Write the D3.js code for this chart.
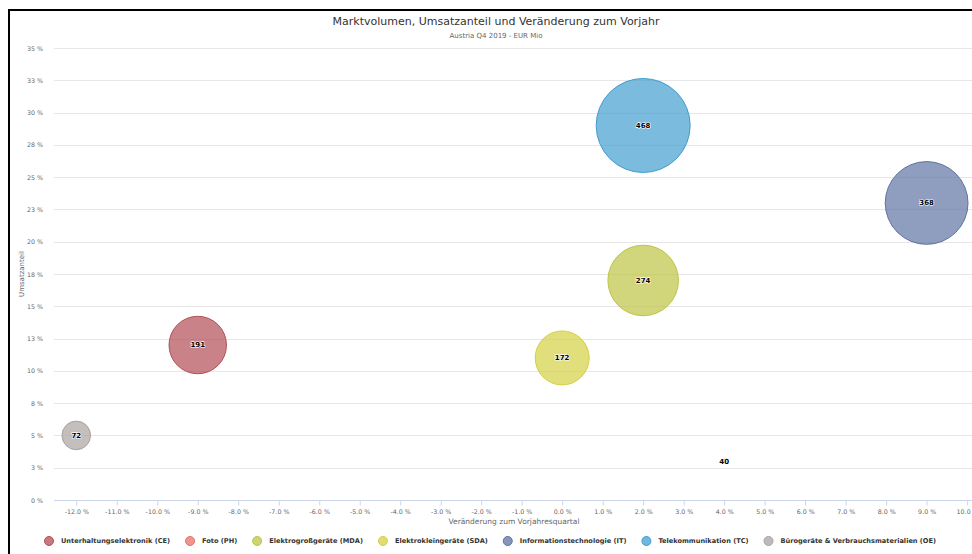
<!DOCTYPE html>
<html>
<head>
<meta charset="utf-8">
<script src="https://cdn.jsdelivr.net/npm/d3@7"></script>
<style>
  body { margin: 0; background: #fff; }
  svg { display: block; font-family: "DejaVu Sans", sans-serif; }
</style>
</head>
<body>
<script>
// chart data
var categories = ["Unterhaltungselektronik (CE)", "Foto (PH)", "Elektrogroßgeräte (MDA)", "Elektrokleingeräte (SDA)",
                  "Informationstechnologie (IT)", "Telekommunikation (TC)", "Bürogeräte & Verbrauchsmaterialien (OE)"]
var changeValues = [-9.0, 4.0, 2.0, 0.0, 9.0, 2.0, -12.0]     // Veränderung zum Vorjahresquartal, %
var shareValues  = [12.0, 3.0, 17.0, 11.0, 23.0, 29.0, 5.0]   // Umsatzanteil, %
var volumeValues = [191, 40, 274, 172, 368, 468, 72]          // EUR Mio
var colors = ["#b24e55", "#e8716a", "#bdc444", "#d4d045", "#5f73a2", "#419ed0", "#aba29f"]

var xTicks = d3.range(-12, 11, 1)
var yTicks = d3.range(0, 35.01, 2.5)

var width = 972
var height = 554
var plotLeft = 54, plotRight = 974, plotTop = 48, plotBottom = 500

var svg = d3.select("body").append("svg")
    .attr("width", width)
    .attr("height", height)

svg.append("rect")
    .attr("width", width)
    .attr("height", height)
    .attr("fill", "white")

var x = d3.scaleLinear().domain([-12.55, 10.17]).range([plotLeft, plotRight])
var y = d3.scaleLinear().domain([0, 35]).range([plotBottom, plotTop])
var zMin = d3.min(volumeValues), zMax = d3.max(volumeValues)
var r = d3.scaleSqrt().domain([0, zMax - zMin]).range([2, 47])

// grid lines
svg.append("g")
    .selectAll("line")
    .data(yTicks.filter(function(d) { return d > 0 }))
    .join("line")
    .attr("x1", plotLeft)
    .attr("x2", width)
    .attr("y1", function(d) { return Math.round(y(d)) + 0.5 })
    .attr("y2", function(d) { return Math.round(y(d)) + 0.5 })
    .attr("stroke", "#e6e6e6")

// y axis labels
var yAxis = svg.append("g")
    .attr("transform", "translate(" + (plotLeft - 8) + ",0)")
    .call(d3.axisLeft(y).tickValues(yTicks).tickSize(0)
        .tickFormat(function(d) { return Math.round(d) + " %" }))
yAxis.select(".domain").remove()
yAxis.selectAll("text")
    .attr("fill", "#666")
    .style("font-size", "6.3px")
    .style("font-family", "DejaVu Sans, sans-serif")

// x axis
var xAxis = svg.append("g")
    .attr("transform", "translate(0," + (plotBottom + 0.5) + ")")
    .call(d3.axisBottom(x).tickValues(xTicks).tickSize(5).tickPadding(4)
        .tickFormat(function(d) { return d.toFixed(1) + " %" }))
xAxis.select(".domain").remove()
xAxis.append("line")
    .attr("x1", plotLeft)
    .attr("x2", width)
    .attr("stroke", "#ccd6eb")
xAxis.selectAll(".tick line").attr("stroke", "#ccd6eb")
xAxis.selectAll("text")
    .attr("fill", "#666")
    .style("font-size", "6.3px")
    .style("font-family", "DejaVu Sans, sans-serif")

// axis titles
svg.append("text")
    .attr("x", (plotLeft + plotRight) / 2)
    .attr("y", 524)
    .attr("text-anchor", "middle")
    .attr("fill", "#666")
    .style("font-size", "7.5px")
    .text("Veränderung zum Vorjahresquartal")

svg.append("text")
    .attr("transform", "translate(24," + ((plotTop + plotBottom) / 2) + ") rotate(-90)")
    .attr("text-anchor", "middle")
    .attr("fill", "#666")
    .style("font-size", "7px")
    .text("Umsatzanteil")

// title
svg.append("text")
    .attr("x", 496)
    .attr("y", 25)
    .attr("text-anchor", "middle")
    .attr("fill", "#333")
    .style("font-size", "11px")
    .text("Marktvolumen, Umsatzanteil und Veränderung zum Vorjahr")

svg.append("text")
    .attr("x", 496)
    .attr("y", 38)
    .attr("text-anchor", "middle")
    .attr("fill", "#666")
    .style("font-size", "7px")
    .text("Austria Q4 2019 - EUR Mio")

// bubbles
var bubbles = svg.append("g")
    .selectAll("g")
    .data(categories)
    .join("g")
    .attr("transform", function(d, i) { return "translate(" + x(changeValues[i]) + "," + y(shareValues[i]) + ")" })

bubbles.append("circle")
    .attr("r", function(d, i) { return r(volumeValues[i] - zMin) })
    .attr("fill", function(d, i) { return colors[i] })
    .attr("fill-opacity", 0.7)
    .attr("stroke", function(d, i) { return colors[i] })

bubbles.append("text")
    .attr("text-anchor", "middle")
    .attr("dy", "0.35em")
    .attr("fill", "#000")
    .attr("stroke", "#fff")
    .attr("stroke-width", 1.2)
    .attr("paint-order", "stroke")
    .style("font-size", "7px")
    .style("font-weight", "bold")
    .text(function(d, i) { return volumeValues[i] })

// legend
var legend = svg.append("g").attr("transform", "translate(0,541)")
var lx = 49
categories.forEach(function(c, i) {
    legend.append("circle")
        .attr("cx", lx)
        .attr("cy", 0)
        .attr("r", 4.5)
        .attr("fill", colors[i])
        .attr("fill-opacity", 0.75)
        .attr("stroke", colors[i])
    var t = legend.append("text")
        .attr("x", lx + 12)
        .attr("dy", "0.35em")
        .attr("fill", "#333")
        .style("font-size", "6.6px")
        .style("font-weight", "bold")
        .text(c)
    lx = lx + 12 + t.node().getComputedTextLength() + 20
})

// frame of the screenshot
svg.append("path")
    .attr("d", "M9,554 V10 H972")
    .attr("fill", "none")
    .attr("stroke", "#000")
    .attr("stroke-width", 2)
</script>
</body>
</html>
